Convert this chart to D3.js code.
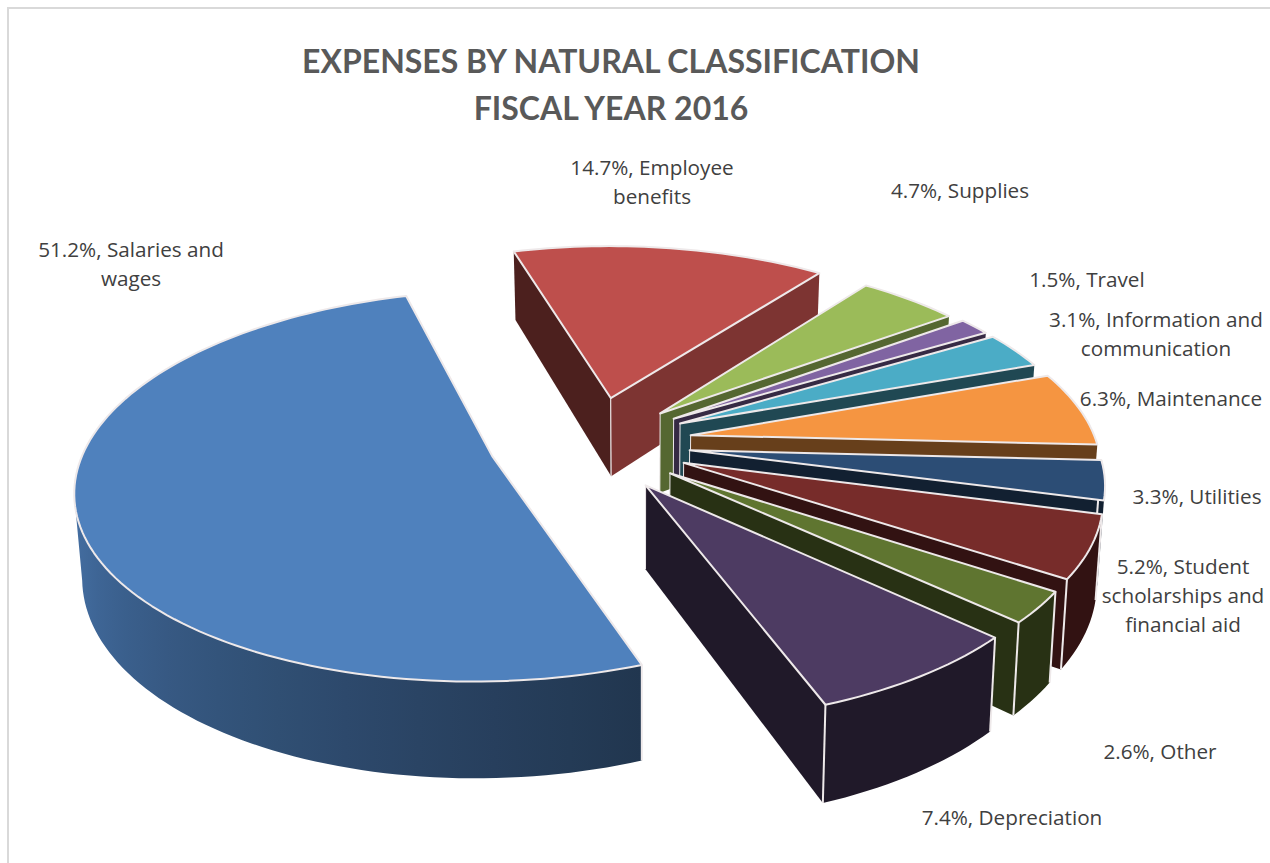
<!DOCTYPE html>
<html><head><meta charset="utf-8">
<script src="https://cdn.jsdelivr.net/npm/d3@7"></script>
<style>html,body{margin:0;padding:0;background:#fff}svg{display:block}</style>
</head><body>
<svg id="c" width="1270" height="863"></svg>
<script>
const categories = ["Salaries and wages","Employee benefits","Supplies","Travel","Information and communication","Maintenance","Utilities","Student scholarships and financial aid","Other","Depreciation"];
const values = [51.2,14.7,4.7,1.5,3.1,6.3,3.3,5.2,2.6,7.4];
const colors = ["#4F81BD","#BE4F4C","#9BBB59","#8064A2","#4BACC6","#F59541","#2C4D75","#772C2A","#5F7530","#4D3B62"];
const titleLines = ["EXPENSES BY NATURAL CLASSIFICATION","FISCAL YEAR 2016"];
const explosion = [110,96,88,90,92,92,92,90,88,106];
const nudgeX = [-2,-6,-1,0,-2,0,-2,0,-1,-15];
const nudgeY = [0,0,3,3,3,3,8,12,16,7];
const wallShade = [0.42,0.66,0.55,0.42,0.42,0.42,0.42,0.42,0.42,0.42];
const labelLines = [["51.2%, Salaries and","wages"],["14.7%, Employee","benefits"],["4.7%, Supplies"],["1.5%, Travel"],["3.1%, Information and","communication"],["6.3%, Maintenance"],["3.3%, Utilities"],["5.2%, Student","scholarships and","financial aid"],["2.6%, Other"],["7.4%, Depreciation"]];
const labelPos = [[131,257],[652,175],[960,198],[1087,287],[1156,327],[1171,406],[1197,504],[1183,574],[1160,759],[1012,825]];

const svg = d3.select("#c");
const FONT = "'Open Sans', sans-serif";
svg.append("path").attr("d","M8,863V8H1270").attr("fill","none").attr("stroke","#d9d9d9").attr("stroke-width",2);

const cx=600, cy=440, R=405, tilt=0.46, f=2700, H=81, vanishX=640, lean=0.986, rad=Math.PI/180;
const startBearing=159.5*rad;
const scaleR = d3.scaleLinear().domain([0,1]).range([0,R]);
function project(X,Y,down){const s=f/(f-Y);return [cx+X*s, cy+(Y*tilt+down)*s];}
function planar(b,r,ox,oy){return [ox+Math.sin(b)*r, oy-Math.cos(b)*r];}

const arcs = d3.pie().sort(null).value(d=>d).startAngle(startBearing).endAngle(startBearing+2*Math.PI)(values);
const line = d3.line();
const shadeSide = d3.scaleLinear().domain([160,180,220,272]).range([0.42,0.5,0.68,0.95]).clamp(true);

const defs = svg.append("defs");
const slices = arcs.map((a,i)=>{
  const mid=(a.startAngle+a.endAngle)/2, e=explosion[i];
  const ox=Math.sin(mid)*e+nudgeX[i], oy=-Math.cos(mid)*e+nudgeY[i];
  const n=Math.max(4,Math.ceil((a.endAngle-a.startAngle)/(1.5*rad)));
  const bearings=d3.range(n+1).map(k=>a.startAngle+(a.endAngle-a.startAngle)*k/n);
  const rim=bearings.map(b=>planar(b,scaleR(1),ox,oy));
  return {i,a,mid,ox,oy,bearings,rim};
});
slices.sort((p,q)=>Math.cos(q.mid)-Math.cos(p.mid));
const g = svg.append("g");
const EDGE="#eee9ea", SW=2;

slices.forEach(sl=>{
  const {i,a,ox,oy,rim,bearings}=sl;
  const base=d3.color(colors[i]);
  const col=k=>d3.rgb(base.r*k,base.g*k,base.b*k).formatHex();
  const T=p=>project(p[0],p[1],0);
  const B=p=>{const q=project(p[0],p[1],H);return [vanishX+(q[0]-vanishX)*lean,q[1]];};
  const apex=[ox,oy];
  const rimFirst=rim[0], rimLast=rim[rim.length-1];
  const walls=[
    {pts:[T(apex),T(rimFirst),B(rimFirst),B(apex)], k:i===1?0.4:0.42},
    {pts:[T(apex),T(rimLast),B(rimLast),B(apex)], k:wallShade[i]}
  ];
  walls.forEach((w,idx)=>{
    const b=idx===0?a.startAngle:a.endAngle;
    const nb=b+(idx===0?-Math.PI/2:Math.PI/2);
    if(-Math.cos(nb)<=0) return;
    g.append("path").attr("d",line(w.pts)+"Z").attr("fill",col(w.k));
    g.append("path").attr("d",line([w.pts[0],w.pts[3]])).attr("stroke",EDGE).attr("stroke-width",1).attr("fill","none");
  });
  let vis=[];
  bearings.forEach((b,k)=>{ if(-Math.cos(b)>-0.02) vis.push(k); });
  if(vis.length>1){
    const allTop=vis.map(k=>T(rim[k]));
    const cut=d3.minIndex(allTop,d=>d[0]);
    vis=vis.slice(0,Math.max(cut+1,2));
    const top=vis.map(k=>T(rim[k])), bot=vis.map(k=>B(rim[k]));
    const x0=top[0][0], x1=top[top.length-1][0];
    const id="side"+i, grad=defs.append("linearGradient").attr("id",id).attr("gradientUnits","userSpaceOnUse")
      .attr("x1",x0).attr("x2",x1).attr("y1",0).attr("y2",0);
    vis.forEach((k,q)=>{ if(q%6===0||q===vis.length-1){
      const deg=(bearings[k]/rad)%360;
      grad.append("stop").attr("offset",Math.abs(x1-x0)<1?0:(top[q][0]-x0)/(x1-x0)).attr("stop-color",col(shadeSide(deg)));
    }});
    g.append("path").attr("d",line(top.concat(bot.reverse()))+"Z").attr("fill",`url(#${id})`);
    const first=vis[0], last=vis[vis.length-1];
    [first,last].forEach(k=>{ if(k===0||k===bearings.length-1)
      g.append("path").attr("d",line([T(rim[k]),B(rim[k])])).attr("stroke",EDGE).attr("stroke-width",SW).attr("fill","none");});
  }
  const topPts=[T(apex)].concat(rim.map(T));
  g.append("path").attr("d",line(topPts)+"Z").attr("fill",base.formatHex()).attr("stroke",EDGE).attr("stroke-width",SW).attr("stroke-linejoin","round");
});

titleLines.forEach((t,k)=>svg.append("text").text(t).attr("x",611).attr("y",[73,120][k]).attr("text-anchor","middle")
  .attr("font-family","Lato, "+FONT).attr("font-weight",700).attr("font-size",32).attr("fill","#595959"));
labelLines.forEach((ls,i)=>ls.forEach((t,k)=>svg.append("text").text(t).attr("x",labelPos[i][0]).attr("y",labelPos[i][1]+k*29)
  .attr("text-anchor","middle").attr("font-family",FONT).attr("font-size",20.7).attr("fill","#404040")));
</script>
</body></html>
